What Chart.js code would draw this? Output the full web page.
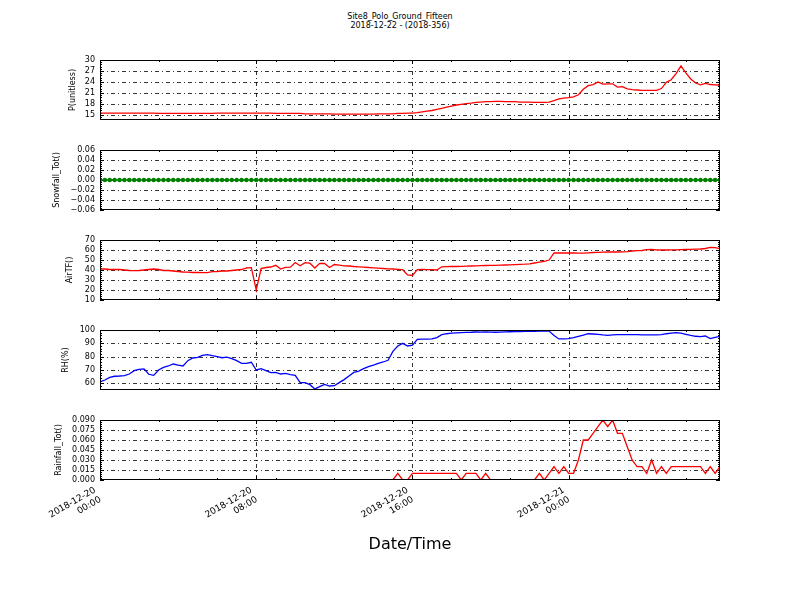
<!DOCTYPE html>
<html>
<head>
<meta charset="utf-8">
<script src="https://cdn.jsdelivr.net/npm/chart.js@4/dist/chart.umd.min.js"></script>
<style>
  body { margin: 0; background: #fff; }
  #wrap { position: relative; width: 800px; height: 600px; font-family: 'DejaVu Sans', sans-serif; }
  canvas { position: absolute; left: 0; }
  .ttl { position: absolute; left: 0; top: 12px; width: 800px; text-align: center; font-size: 8px; line-height: 9px; color: #000; }
</style>
</head>
<body>
<div id="wrap">
  <div class="ttl">Site8_Polo_Ground_Fifteen<br>2018-12-22 - (2018-356)</div>
  <canvas id="pChart" width="800" height="80" style="top:50px"></canvas>
  <canvas id="snowChart" width="800" height="80" style="top:140px"></canvas>
  <canvas id="airChart" width="800" height="80" style="top:230px"></canvas>
  <canvas id="rhChart" width="800" height="80" style="top:320px"></canvas>
  <canvas id="rainChart" width="800" height="145" style="top:410px"></canvas>
</div>
<script>
// x axis: hours since 2018-12-20 00:00, one sample every 15 minutes
const xTickHours = [0, 8, 16, 24];
const xMinorHours = [3, 6, 9, 12, 15, 18, 21, 27, 30];
const xTickLabels = [
    ['2018-12-20', '00:00'], ['2018-12-20', '08:00'],
    ['2018-12-20', '16:00'], ['2018-12-21', '00:00']
];

// P (unitless)
const P = [
    15.5, 15.5, 15.5, 15.5, 15.5, 15.5, 15.5, 15.5, 15.5, 15.5, 15.5, 15.5, 15.4, 15.4, 15.4, 15.4,
    15.4, 15.4, 15.4, 15.4, 15.4, 15.4, 15.4, 15.4, 15.5, 15.5, 15.5, 15.5, 15.5, 15.5, 15.5, 15.5,
    15.5, 15.5, 15.5, 15.5, 15.4, 15.4, 15.4, 15.4, 15.4, 15.4, 15.3, 15.3, 15.3, 15.3, 15.3, 15.3,
    15.2, 15.2, 15.2, 15.2, 15.2, 15.2, 15.2, 15.2, 15.2, 15.3, 15.3, 15.3, 15.3, 15.4, 15.4, 15.5,
    15.5, 15.6, 15.8, 16.0, 16.2, 16.5, 16.8, 17.1, 17.4, 17.7, 17.9, 18.1, 18.2, 18.4, 18.5, 18.6,
    18.6, 18.7, 18.7, 18.6, 18.6, 18.6, 18.5, 18.5, 18.5, 18.4, 18.4, 18.4, 18.5, 18.9, 19.4, 19.6,
    19.7, 19.9, 20.5, 22.0, 23.0, 23.3, 24.0, 23.4, 23.5, 23.5, 22.6, 22.7, 22.1, 21.9, 21.8, 21.7,
    21.7, 21.7, 21.7, 22.2, 23.9, 24.6, 26.3, 28.4, 26.5, 24.8, 23.7, 23.2, 23.6, 23.3, 23.2, 23.1
];

// Snowfall_Tot
const snowfall = [
    0, 0, 0, 0, 0, 0, 0, 0, 0, 0, 0, 0, 0, 0, 0, 0,
    0, 0, 0, 0, 0, 0, 0, 0, 0, 0, 0, 0, 0, 0, 0, 0,
    0, 0, 0, 0, 0, 0, 0, 0, 0, 0, 0, 0, 0, 0, 0, 0,
    0, 0, 0, 0, 0, 0, 0, 0, 0, 0, 0, 0, 0, 0, 0, 0,
    0, 0, 0, 0, 0, 0, 0, 0, 0, 0, 0, 0, 0, 0, 0, 0,
    0, 0, 0, 0, 0, 0, 0, 0, 0, 0, 0, 0, 0, 0, 0, 0,
    0, 0, 0, 0, 0, 0, 0, 0, 0, 0, 0, 0, 0, 0, 0, 0,
    0, 0, 0, 0, 0, 0, 0, 0, 0, 0, 0, 0, 0, 0, 0, 0
];

// AirTF
const airTemp = [
    41, 41, 40.5, 40.5, 40.5, 40, 39.5, 39.3, 39.5, 40, 40.5, 41, 40.5, 39.5, 39.5, 39,
    38.5, 38, 37.8, 37.5, 37.5, 37.3, 37.3, 38.3, 38.5, 39, 39, 39.5, 40, 40.5, 42, 42.3,
    20, 41.5, 42.5, 43, 44.7, 41, 42.7, 42.8, 47.5, 44.3, 47.3, 46.8, 42, 46.7, 46.5, 42.5,
    45.5, 44.8, 44.2, 44, 43.5, 43.2, 42.8, 42.5, 42.2, 41.8, 41.5, 41.2, 41, 40.7, 40.3, 35,
    34.5, 40.3, 40.5, 40.3, 40.3, 40, 43.2, 43.3, 43.5, 43.5, 43.6, 43.8, 44, 44.2, 44.3, 44.5,
    44.6, 44.7, 44.8, 45, 45.2, 45.4, 45.6, 45.8, 46.2, 47, 47.8, 48.6, 50, 57, 57, 57,
    57, 57, 56.8, 56.8, 57.2, 57.5, 57.7, 57.8, 58, 58, 58, 58.2, 58.4, 59, 59.3, 59.5,
    60.3, 60.5, 60.2, 60, 60, 60.1, 60.2, 60.3, 60.5, 60.6, 60.8, 61, 61.5, 62.6, 62.3, 61.3
];

// RH (%)
const humidity = [
    61, 62.5, 64.5, 65.3, 65.5, 65.8, 67, 69.5, 70.5, 70.8, 66.8, 66, 70, 72, 73, 74.5,
    73.7, 73, 77, 79, 79.5, 81, 81.5, 80.7, 80, 79.2, 79.7, 78.5, 77, 75, 75, 75.8,
    70, 71, 69.5, 68, 68.2, 67, 67.5, 66.5, 66, 60.5, 60.5, 59, 55.8, 57.5, 59.2, 58,
    58.2, 60.5, 62.8, 65.5, 68.2, 69.2, 71, 72.5, 73.7, 75, 76, 77.3, 84, 88, 90, 88,
    88.7, 93, 93.2, 93.2, 93.3, 94.3, 96.5, 97.2, 97.6, 97.8, 98, 98.2, 98.3, 98.5, 98.4, 98.5,
    98.4, 98.3, 98.4, 98.6, 98.7, 98.8, 98.8, 98.9, 99, 99, 99.1, 99.2, 99.2, 95.8, 93.3, 93.4,
    93.5, 94.2, 95.2, 96.2, 97.2, 97, 96.7, 96.3, 96, 96.3, 96.5, 96.5, 96.5, 96.5, 96.5, 96.4,
    96.3, 96.3, 96.3, 96.6, 97.2, 97.7, 98, 97.6, 96.8, 96, 95.3, 95, 95.5, 93.5, 94.5, 95.2
];

// Rainfall_Tot
const rainfall = [
    0, 0, 0, 0, 0, 0, 0, 0, 0, 0, 0, 0, 0, 0, 0, 0,
    0, 0, 0, 0, 0, 0, 0, 0, 0, 0, 0, 0, 0, 0, 0, 0,
    0, 0, 0, 0, 0, 0, 0, 0, 0, 0, 0, 0, 0, 0, 0, 0,
    0, 0, 0, 0, 0, 0, 0, 0, 0, 0, 0, 0, 0, 0.01, 0, 0,
    0.01, 0.01, 0.01, 0.01, 0.01, 0.01, 0.01, 0.01, 0.01, 0.01, 0, 0.01, 0.01, 0.01, 0, 0.01,
    0, 0, 0, 0, 0, 0, 0, 0, 0, 0, 0.01, 0, 0.01, 0.02, 0.01, 0.02,
    0.01, 0.01, 0.03, 0.06, 0.06, 0.07, 0.08, 0.09, 0.08, 0.09, 0.07, 0.07, 0.05, 0.03, 0.02, 0.02,
    0.01, 0.03, 0.01, 0.02, 0.01, 0.02, 0.02, 0.02, 0.02, 0.02, 0.02, 0.02, 0.01, 0.02, 0.01, 0.02
];

// y tick values for each panel
const pTicks = [15, 18, 21, 24, 27, 30];
const snowTicks = [-0.06, -0.04, -0.02, 0, 0.02, 0.04, 0.06];
const airTicks = [10, 20, 30, 40, 50, 60, 70];
const rhTicks = [60, 70, 80, 90, 100];
const rainTicks = [0, 0.015, 0.03, 0.045, 0.06, 0.075, 0.09];

const hours = P.map((_, i) => i * 0.25);
const FONT = 'DejaVu Sans';

function seg(ctx, x1, y1, x2, y2) {
    ctx.beginPath();
    ctx.moveTo(x1, y1);
    ctx.lineTo(x2, y2);
    ctx.stroke();
}

// matplotlib-like axes: dash-dot grid, inward ticks, black frame
const mplAxes = {
    id: 'mplAxes',
    beforeDatasetsDraw(chart, args, opts) {
        const { ctx, chartArea: a, scales: { x, y } } = chart;
        const yt = opts.yTicks;
        ctx.save();
        ctx.strokeStyle = '#000';
        ctx.lineWidth = 0.8;
        ctx.setLineDash([4, 3, 1, 3]);
        yt.forEach(v => {
            const py = Math.round(y.getPixelForValue(v)) + 0.5;
            if (py > a.top + 1 && py < a.bottom - 1) seg(ctx, a.left, py, a.right, py);
        });
        xTickHours.forEach(h => {
            const px = Math.round(x.getPixelForValue(h)) + 0.5;
            if (px > a.left + 1 && px < a.right - 1) seg(ctx, px, a.top, px, a.bottom);
        });
        ctx.setLineDash([]);
        ctx.lineWidth = 1;
        // x ticks top and bottom
        xTickHours.forEach(h => {
            const px = Math.round(x.getPixelForValue(h)) + 0.5;
            seg(ctx, px, a.top, px, a.top + 4);
            seg(ctx, px, a.bottom, px, a.bottom - 4);
        });
        xMinorHours.forEach(h => {
            const px = Math.round(x.getPixelForValue(h)) + 0.5;
            seg(ctx, px, a.top, px, a.top + 2);
            seg(ctx, px, a.bottom, px, a.bottom - 2);
        });
        // y ticks left and right, with minor ticks
        const step = yt[1] - yt[0];
        yt.forEach(v => {
            const py = Math.round(y.getPixelForValue(v)) + 0.5;
            seg(ctx, a.left, py, a.left + 4, py);
            seg(ctx, a.right, py, a.right - 4, py);
        });
        for (let t = yt[0] - step; t <= yt[yt.length - 1] + step; t += step) {
            for (let k = 1; k < 5; k++) {
                const v = t + k * step / 5;
                if (v < y.min || v > y.max) continue;
                const py = Math.round(y.getPixelForValue(v)) + 0.5;
                seg(ctx, a.left, py, a.left + 2, py);
                seg(ctx, a.right, py, a.right - 2, py);
            }
        }
        ctx.restore();
    },
    afterDatasetsDraw(chart) {
        const { ctx, chartArea: a } = chart;
        ctx.save();
        ctx.strokeStyle = '#000';
        ctx.lineWidth = 1;
        ctx.strokeRect(a.left + 0.5, a.top + 0.5, a.width - 1, a.height - 1);
        ctx.restore();
    }
};

function makePanel(cfg) {
    const showX = !!cfg.xAxis;
    return new Chart(document.getElementById(cfg.canvas), {
        type: 'line',
        data: {
            datasets: [{
                data: cfg.values.map((v, i) => ({ x: hours[i], y: v })),
                borderColor: cfg.color,
                backgroundColor: cfg.color,
                borderWidth: 1.3,
                pointRadius: cfg.marker ? 2.2 : 0,
                pointBorderWidth: 0,
                tension: 0,
                fill: false
            }]
        },
        options: {
            responsive: false,
            animation: false,
            layout: { padding: { left: 40, right: 80, top: 10, bottom: showX ? 0 : 10 } },
            plugins: {
                legend: { display: false },
                tooltip: { enabled: false },
                mplAxes: { yTicks: cfg.yTicks }
            },
            scales: {
                x: {
                    type: 'linear',
                    min: 0,
                    max: 31.75,
                    display: showX,
                    grid: { display: false, drawTicks: false },
                    border: { display: false },
                    afterBuildTicks: s => { s.ticks = xTickHours.map(v => ({ value: v })); },
                    afterFit: s => {
                        if (!showX) return;
                        s.height = 75;
                        s.paddingLeft = 0;
                        s.paddingRight = 0;
                    },
                    ticks: {
                        autoSkip: false,
                        minRotation: 30,
                        maxRotation: 30,
                        padding: 2,
                        color: '#000',
                        font: { family: FONT, size: 9 },
                        // trailing spaces nudge the rotated labels down-left like matplotlib
                        callback: (v, i) => xTickLabels[i].map(s => s + '  ')
                    },
                    title: {
                        display: showX,
                        text: 'Date/Time',
                        color: '#000',
                        font: { family: FONT, size: 16 },
                        padding: { top: 0, bottom: 1 }
                    }
                },
                y: {
                    min: cfg.yMin,
                    max: cfg.yMax,
                    grid: { display: false, drawTicks: false },
                    border: { display: false },
                    afterBuildTicks: s => { s.ticks = cfg.yTicks.map(v => ({ value: v })); },
                    afterFit: s => { s.width = 60; s.paddingTop = 0; s.paddingBottom = 0; },
                    ticks: {
                        autoSkip: false,
                        padding: 5,
                        color: '#000',
                        font: { family: FONT, size: 8 },
                        callback: v => cfg.fmt(v)
                    },
                    title: {
                        display: true,
                        text: cfg.label,
                        color: '#000',
                        font: { family: FONT, size: 8 },
                        padding: { top: cfg.labelX - 44.8, bottom: 0 }
                    }
                }
            }
        },
        plugins: [mplAxes]
    });
}

const minus = v => (v < 0 ? '\u2212' : '') + Math.abs(v).toFixed(2);

makePanel({ canvas: 'pChart', values: P, color: '#ff0000', yMin: 13.6, yMax: 30,
    yTicks: pTicks, fmt: v => String(v), label: 'P(unitless)', labelX: 72.5 });
makePanel({ canvas: 'snowChart', values: snowfall, color: '#008000', marker: true, yMin: -0.06, yMax: 0.06,
    yTicks: snowTicks, fmt: minus, label: 'Snowfall_Tot()', labelX: 57 });
makePanel({ canvas: 'airChart', values: airTemp, color: '#ff0000', yMin: 10, yMax: 70,
    yTicks: airTicks, fmt: v => String(v), label: 'AirTF()', labelX: 70 });
makePanel({ canvas: 'rhChart', values: humidity, color: '#0000ff', yMin: 55, yMax: 100,
    yTicks: rhTicks, fmt: v => String(v), label: 'RH(%)', labelX: 66 });
makePanel({ canvas: 'rainChart', values: rainfall, color: '#ff0000', yMin: 0, yMax: 0.09,
    yTicks: rainTicks, fmt: v => v.toFixed(3), label: 'Rainfall_Tot()', labelX: 58.5, xAxis: true });
</script>
</body>
</html>
